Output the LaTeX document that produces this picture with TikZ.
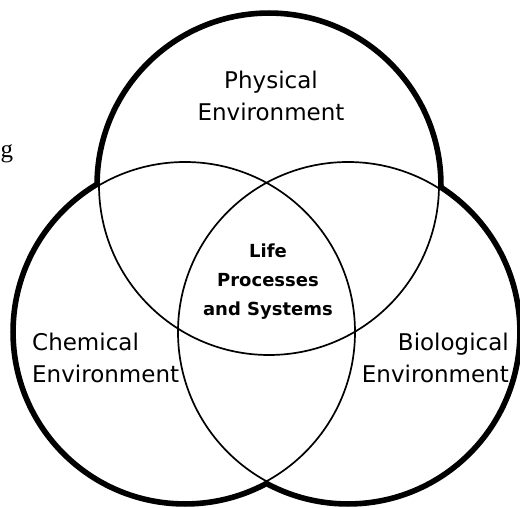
\documentclass[tikz,border=0pt]{standalone}
\usepackage{fontspec}
\setmainfont{DejaVu Sans}
\newfontfamily\gserif{Liberation Serif}
\begin{document}
\begin{tikzpicture}[x=1pt,y=-1pt,
  bigtext/.style={inner sep=0pt,font=\fontsize{23}{32}\selectfont},
  midtext/.style={inner sep=0pt,align=center,font=\fontsize{18}{29}\selectfont\bfseries},
  outerline/.style={draw=black,line width=9.5pt},
  innerline/.style={draw=black,line width=1.7pt}]
\useasboundingbox (0,0) rectangle (520,508);
\coordinate (ctop) at (269,185);
\coordinate (cleft) at (185,332);
\coordinate (cright) at (348,332);
% thick outer boundary
\foreach \c in {ctop,cleft,cright} \draw[outerline] (\c) circle[radius=170];
\foreach \c in {ctop,cleft,cright} \fill[white] (\c) circle[radius=170];
% thin circles
\foreach \c in {ctop,cleft,cright} \draw[innerline] (\c) circle[radius=170];
% labels
\node[bigtext,align=center,anchor=base] (phys) at (271,121) {Physical\\Environment};
\node[bigtext,align=left,anchor=base west] (chem) at (32,382) {Chemical\\Environment};
\node[bigtext,align=right,anchor=base east] (bio) at (509,382) {Biological\\Environment};
\node[midtext,anchor=base] (life) at (268,315) {Life\\Processes\\and Systems};
\node[inner sep=0pt,anchor=base west,font=\gserif\fontsize{25}{30}\selectfont] (gchar) at (0.5,158) {g};
\end{tikzpicture}
\end{document}
